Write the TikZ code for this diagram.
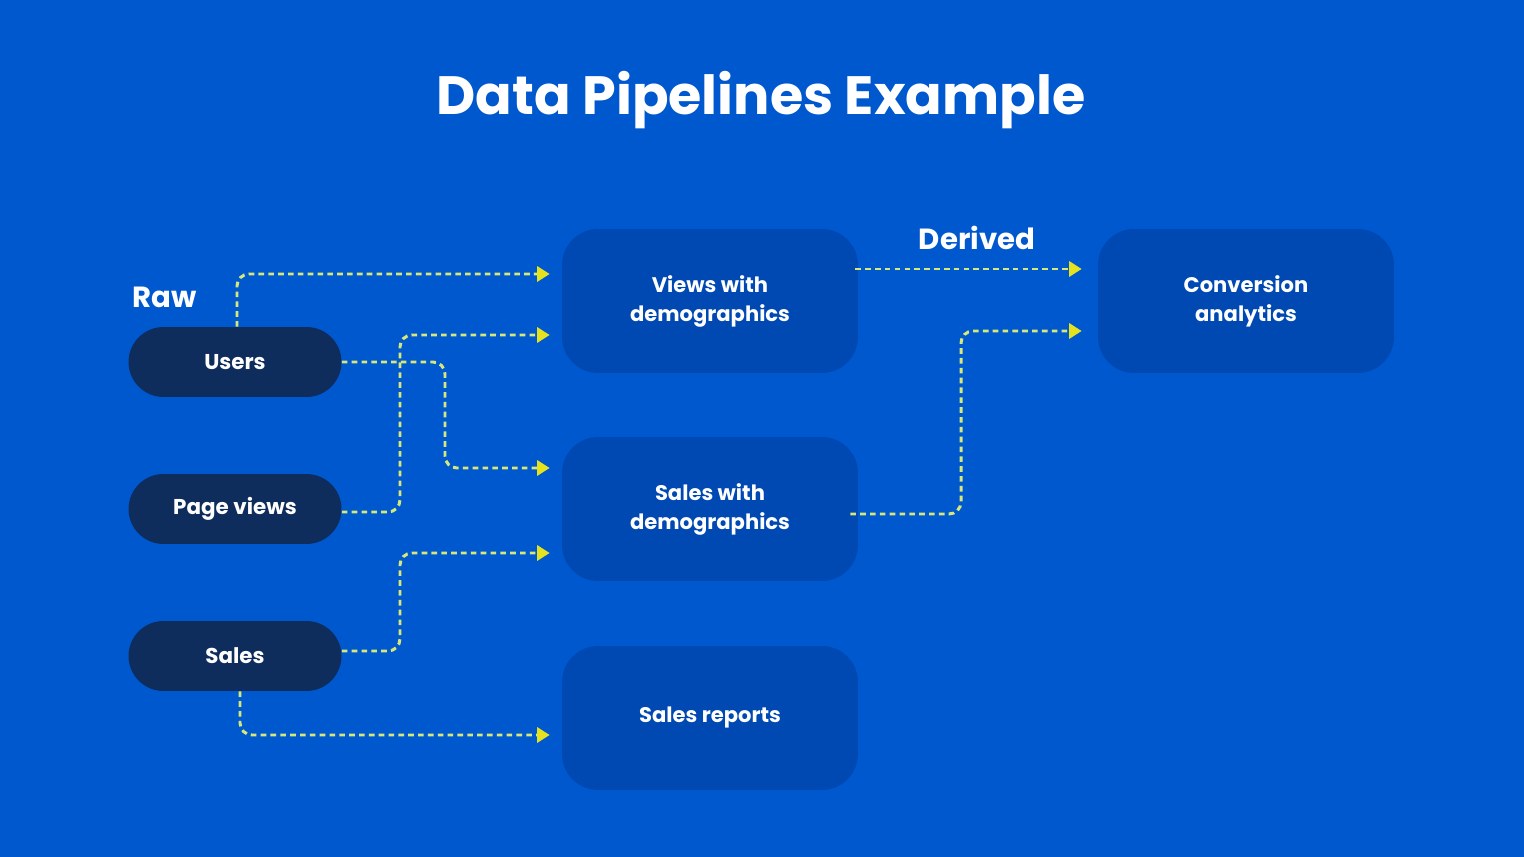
\documentclass[tikz,border=0pt]{standalone}
\usepackage{fontspec}
\setmainfont{Poppins}
\usepackage{tikz}
\usetikzlibrary{calc, arrows.meta, positioning}
\usepackage{xcolor}
\definecolor{bgblue}{HTML}{0058CF}
\definecolor{rawnavy}{HTML}{0F2D5C}
\definecolor{derivedblue}{HTML}{0049B2}
\definecolor{flowline}{HTML}{D8E878}
\definecolor{flowtip}{HTML}{E6E21E}

\begin{document}
\begin{tikzpicture}[x=0.02cm, y=-0.02cm]
        % Styles
        \tikzset{
          rawpill/.style={
            fill=rawnavy, text=white,
            font=\bfseries\fontsize{12.2}{15}\selectfont,
            minimum width=4.26cm, minimum height=1.4cm,
            rounded corners=0.7cm, inner sep=0pt
          },
          derivedbox/.style={
            fill=derivedblue, text=white,
            font=\bfseries\fontsize{12}{16.5}\selectfont,
            align=center,
            minimum width=5.92cm, minimum height=2.88cm,
            rounded corners=0.72cm, inner sep=0pt
          },
          flow/.style={
            draw=flowline, line width=1.7pt,
            dash pattern=on 3.2pt off 2.4pt,
            rounded corners=0.24cm,
            shorten >=0.24cm,
            -{Triangle[length=0.25cm, width=0.3cm, color=flowtip, fill=flowtip, sep=0pt]}
          },
          tag/.style={text=white, font=\bfseries\fontsize{16.6}{18}\selectfont}
        }

        % background and page size
        \fill[bgblue] (0,0) rectangle (1524,857);
        \useasboundingbox (0,0) rectangle (1524,857);

        % title
        \node[text=white, font=\bfseries\fontsize{30.7}{34}\selectfont] (title) at (761,100) {Data Pipelines Example};

        % raw sources
        \node[rawpill] (users) at (235,362) {Users};
        \node[rawpill] (pageviews) at (235,509) {Page views};
        \node[rawpill] (sales) at (235,656) {Sales};
        \node[tag, anchor=west] (rawtag) at (126,297) {Raw};

        % derived tables
        \node[derivedbox] (viewsdemo) at (710,301) {Views with\\demographics};
        \node[derivedbox] (salesdemo) at (710,509) {Sales with\\demographics};
        \node[derivedbox] (salesrep) at (710,718) {Sales reports};
        \node[derivedbox] (conversion) at (1246,301) {Conversion\\analytics};
        \node[tag] (derivedtag) at (977,238) {Derived};

        % raw -> derived
        \draw[flow] ($(users.north)+(2,0)$) |- ($(viewsdemo.west)+(0,-27)$);
        \draw[flow] ($(pageviews.east)+(0,3)$) -| (400,420) |- ($(viewsdemo.west)+(0,34)$);
        \draw[flow] (users.east) -| (445,420) |- ($(salesdemo.west)+(0,-41)$);
        \draw[flow] ($(sales.east)+(0,-5)$) -| (400,600) |- ($(salesdemo.west)+(0,44)$);
        \draw[flow] ($(sales.south)+(5,0)$) |- ($(salesrep.west)+(0,17)$);

        % derived -> derived
        \draw[flow] ($(viewsdemo.east)+(-3,-32)$) -- ($(conversion.west)+(-4,-32)$);
        \draw[flow] ($(salesdemo.east)+(-8,5)$) -| (961,420) |- ($(conversion.west)+(-4,30)$);
    \end{tikzpicture}
\end{document}
